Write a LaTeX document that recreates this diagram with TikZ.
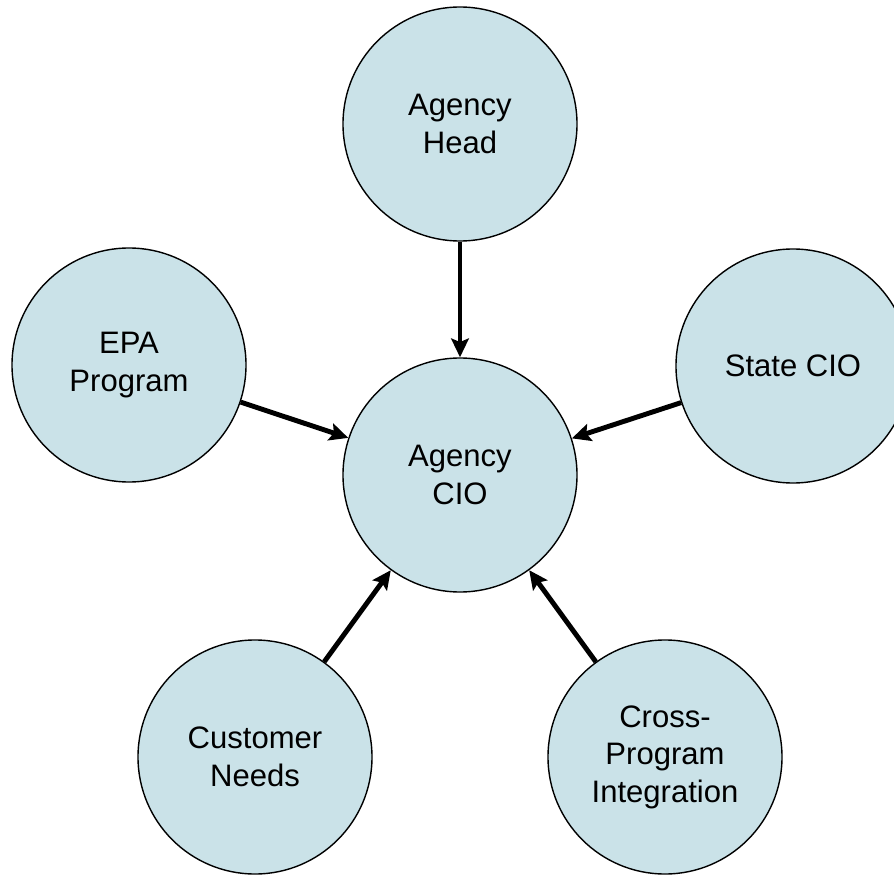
\documentclass[tikz,border=0pt]{standalone}
\usepackage{fontspec}
\setmainfont{Liberation Sans}
\usetikzlibrary{arrows.meta}
\definecolor{bubblefill}{RGB}{202,226,232}

\begin{document}
\begin{tikzpicture}[x=0.03cm, y=-0.03cm,
    bubble/.style={circle, draw, line width=1.2pt, fill=bubblefill,
        minimum size=7.02cm, inner sep=0pt, align=center,
        font=\fontsize{26.5}{32}\selectfont},
    feed/.style={-{Stealth[length=16pt, width=15pt, inset=3pt]}, line width=4.2pt}]
    \useasboundingbox (0, 0) rectangle (894, 875);

    \node[bubble] (cio) at (460, 475) {Agency\\CIO};
    \node[bubble] (head) at (460, 124) {Agency\\Head};
    \node[bubble] (epa) at (129, 365) {EPA\\Program};
    \node[bubble] (state) at (793, 366) {State CIO};
    \node[bubble] (customer) at (255, 757) {Customer\\Needs};
    \node[bubble] (cross) at (665, 757) {Cross-\\Program\\Integration};

    \foreach \src in {head, epa, state, customer, cross} {
        \draw[feed] (\src) -- (cio);
    }
\end{tikzpicture}
\end{document}
